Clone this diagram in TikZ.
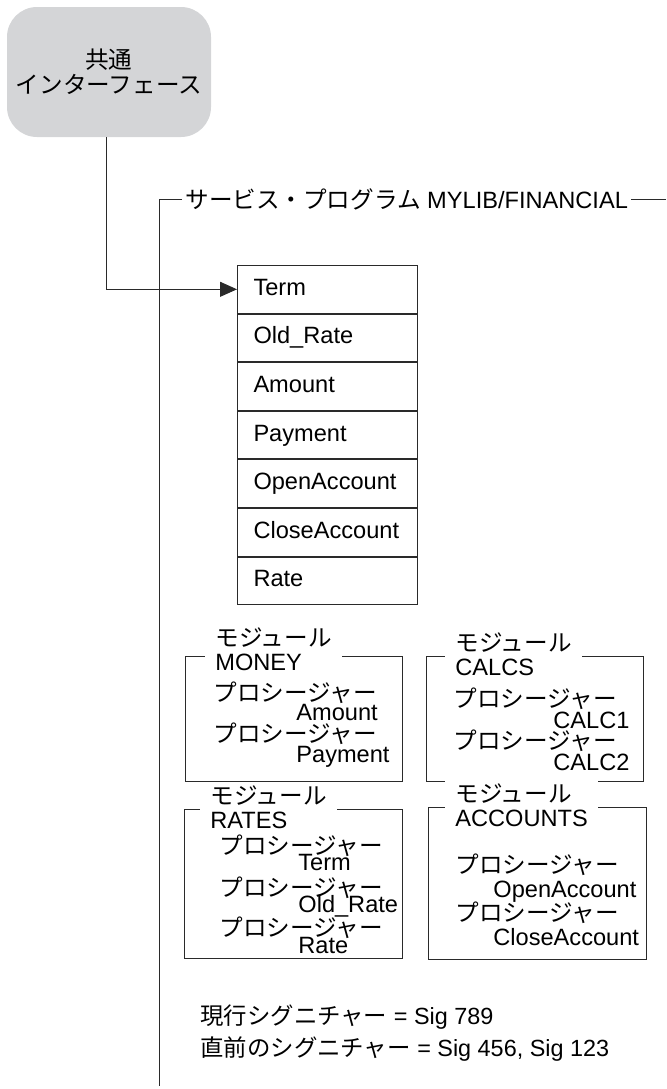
\documentclass[tikz,border=0pt]{standalone}
\usepackage{fontspec}
\setmainfont{Liberation Sans}
\newfontfamily\jpfont{Noto Sans CJK JP}
\usepackage{tikz}
\usetikzlibrary{arrows.meta,positioning}
\definecolor{ifacegray}{HTML}{D4D5D7}
\definecolor{ink}{HTML}{2A2A2A}
\newcommand{\ja}[1]{{\jpfont #1}}
\newcommand{\tightlines}{\lineskiplimit=-100pt\relax}
\tikzset{
  iface/.style={fill=ifacegray,rounded corners=15pt,
                minimum width=102pt,minimum height=65pt,
                align=center,inner sep=0pt,
                font=\jpfont\fontsize{11.8}{12.5}\selectfont},
  expbox/.style={draw=ink,line width=0.5pt,
                 minimum width=90pt,minimum height=23.8pt,
                 text width=74pt,inner xsep=8pt,align=left,
                 text height=8.5pt,text depth=2.5pt,
                 font=\fontsize{11.8}{14}\selectfont},
  modframe/.style={draw=ink,line width=0.5pt,inner sep=0pt},
  modtitle/.style={fill=white,inner xsep=5pt,inner ysep=1pt,align=left,
                   font=\fontsize{11.8}{12}\selectfont\tightlines},
  procs/.style={inner sep=0pt,align=left,
                font=\fontsize{11.8}{10.5}\selectfont\tightlines},
  svctitle/.style={inner xsep=1.5pt,inner ysep=0pt,font=\fontsize{11.8}{14}\selectfont},
  sigtext/.style={inner sep=0pt,align=left,
                  font=\fontsize{11.7}{16}\selectfont},
  conn/.style={draw=ink,line width=0.5pt},
  connarr/.style={conn,-{Triangle[length=8.5pt,width=7.5pt]}}
}
\begin{document}
\begin{tikzpicture}[x=0.5pt,y=-0.5pt]
  \useasboundingbox (0,0) rectangle (666,1089);
  % common interface
  \node[iface] (iface) at (109,72) {共通\\インターフェース};
  % service program bracket
  \node[svctitle,anchor=west] (svc) at (182,199)
    {\ja{サービス・プログラム} MYLIB/FINANCIAL};
  \coordinate (svcend) at (666,199);
  \coordinate (svcfoot) at (159,1086);
  \draw[conn] (svc.west) -| (svcfoot);
  \draw[conn] (svc.east) -- (svcend);
  % export list
  \node[expbox,anchor=north west] (term) at (237,265) {Term};
  \node[expbox,below=0pt of term] (oldrate) {Old\_Rate};
  \node[expbox,below=0pt of oldrate] (amount) {Amount};
  \node[expbox,below=0pt of amount] (payment) {Payment};
  \node[expbox,below=0pt of payment] (openacc) {OpenAccount};
  \node[expbox,below=0pt of openacc] (closeacc) {CloseAccount};
  \node[expbox,below=0pt of closeacc] (rate) {Rate};
  \draw[connarr] ([xshift=-1.5pt]iface.south) |- (term.west);
  % module MONEY (base = last line)
  \node[modframe,minimum width=108.5pt,minimum height=62.5pt,anchor=north west]
    (moneybox) at (185,656) {};
  \node[modtitle,anchor=base west] (money) at (205,670) {\ja{モジュール}\\MONEY};
  \node[procs,anchor=base west] (moneyprocs) at (213,762)
    {\ja{プロシージャー}\\[-1pt]\hspace*{41.5pt}Amount\\[0.5pt]
     \ja{プロシージャー}\\[-0.5pt]\hspace*{41.5pt}Payment};
  % module CALCS
  \node[modframe,minimum width=108.5pt,minimum height=62.5pt,anchor=north west]
    (calcsbox) at (426,656) {};
  \node[modtitle,anchor=base west] (calcs) at (445,675) {\ja{モジュール}\\CALCS};
  \node[procs,anchor=base west] (calcsprocs) at (453,770)
    {\ja{プロシージャー}\\\hspace*{50pt}CALC1\\
     \ja{プロシージャー}\\\hspace*{50pt}CALC2};
  % module RATES
  \node[modframe,minimum width=109pt,minimum height=74.5pt,anchor=north west]
    (ratesbox) at (184,809) {};
  \node[modtitle,anchor=base west] (rates) at (200,828) {\ja{モジュール}\\RATES};
  \node[procs,anchor=base west] (ratesprocs) at (219,953)
    {\ja{プロシージャー}\\[-2.5pt]\hspace*{39.5pt}Term\\[2.5pt]
     \ja{プロシージャー}\\[-2.5pt]\hspace*{39.5pt}Old\_Rate\\[1.5pt]
     \ja{プロシージャー}\\[-2pt]\hspace*{39.5pt}Rate};
  % module ACCOUNTS
  \node[modframe,minimum width=109pt,minimum height=76pt,anchor=north west]
    (accbox) at (428,807) {};
  \node[modtitle,anchor=base west] (accounts) at (445,826) {\ja{モジュール}\\ACCOUNTS};
  \node[procs,anchor=base west] (accprocs) at (455,945)
    {\ja{プロシージャー}\\[1.5pt]\hspace*{19pt}OpenAccount\\[1.5pt]
     \ja{プロシージャー}\\[1.5pt]\hspace*{19pt}CloseAccount};
  % signatures
  \node[sigtext,anchor=base west] (sig) at (200,1056)
    {\ja{現行シグニチャー} = Sig 789\\\ja{直前のシグニチャー} = Sig 456, Sig 123};
\end{tikzpicture}
\end{document}
